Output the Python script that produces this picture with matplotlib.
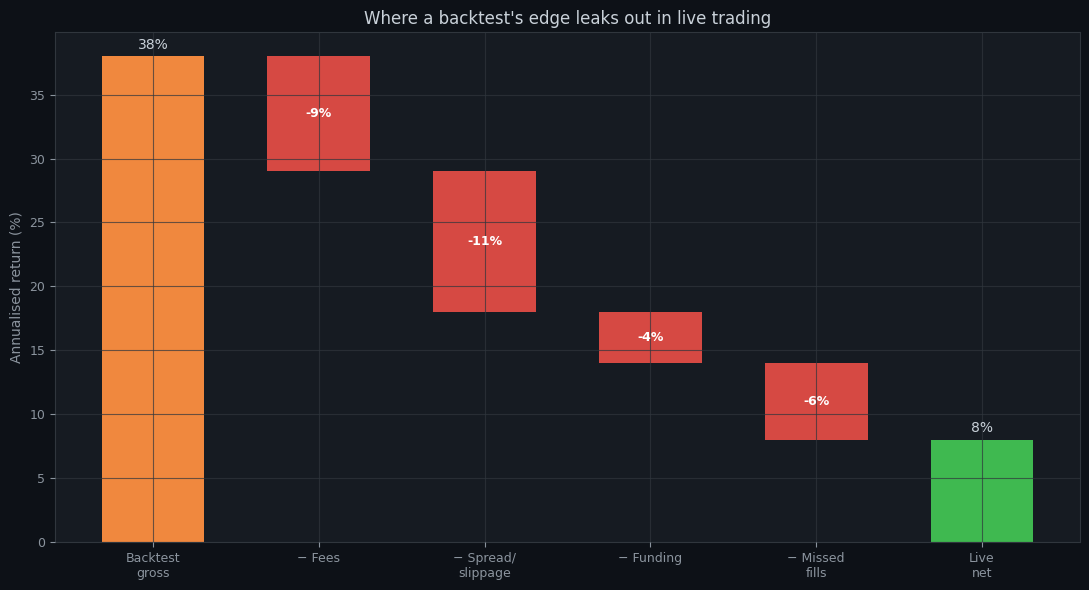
import numpy as np
import matplotlib.pyplot as plt

# waterfall data
labels = ['Backtest\ngross', '\u2212 Fees', '\u2212 Spread/\nslippage', '\u2212 Funding', '\u2212 Missed\nfills', 'Live\nnet']
start_value = 38
deltas = [-9, -11, -4, -6]
end_value = 8

bg = '#0d1117'
panel = '#161b22'
text_c = '#c9d1d9'
muted = '#8b949e'
grid_c = '#30363d'

# build bottoms/heights
bottoms = [0]
heights = [start_value]
level = start_value
for d in deltas:
    bottoms.append(level + d)
    heights.append(-d)
    level += d
bottoms.append(0)
heights.append(end_value)
colors = ['#f0883e'] + ['#d64943'] * len(deltas) + ['#3fb950']

fig, ax = plt.subplots(figsize=(10.89, 5.9), dpi=100)
fig.patch.set_facecolor(bg)
ax.set_facecolor(panel)

x = np.arange(len(labels))
bars = ax.bar(x, heights, bottom=bottoms, width=0.62, color=colors, zorder=1)

# labels
ax.text(x[0], heights[0] + 0.35, f'{start_value}%', ha='center', va='bottom', color=text_c, fontsize=10)
ax.text(x[-1], heights[-1] + 0.35, f'{end_value}%', ha='center', va='bottom', color=text_c, fontsize=10)
for i, d in enumerate(deltas, start=1):
    ax.text(x[i], bottoms[i] + heights[i] / 2, f'{d}%', ha='center', va='center',
            color='white', fontsize=9, fontweight='bold', zorder=4)

ax.set_xticks(x)
ax.set_xticklabels(labels)
ax.set_ylabel('Annualised return (%)', color=muted, fontsize=10)
ax.set_title("Where a backtest's edge leaks out in live trading", color=text_c, fontsize=12)

ax.set_axisbelow(False)
ax.grid(True, color=grid_c, alpha=0.7, linewidth=0.8, zorder=3)
ax.tick_params(colors=muted, labelsize=9)
for s in ax.spines.values():
    s.set_color(grid_c)

plt.subplots_adjust(left=0.0505, right=0.9917, top=0.9458, bottom=0.0814)
plt.savefig('out.png', facecolor=bg)
